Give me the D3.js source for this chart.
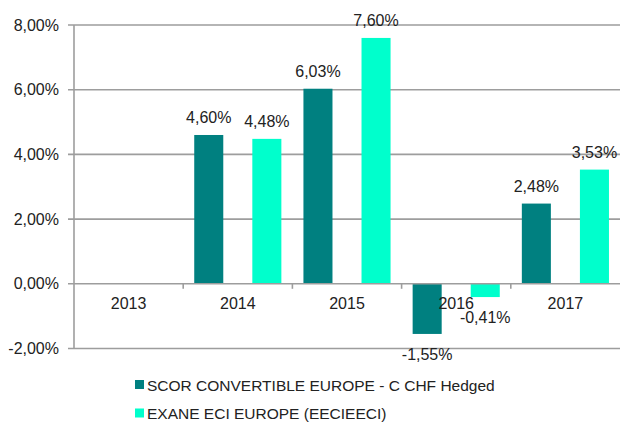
<!DOCTYPE html>
<html>
<head>
<meta charset="utf-8">
<script src="https://cdn.jsdelivr.net/npm/d3@7"></script>
<style>
    body { margin: 0; background: #fff; }
    text { font-family: 'Liberation Sans', Arial, sans-serif; fill: #222; }
</style>
</head>
<body>
<div id="chart"></div>
<script>
// data
const years = ['2013', '2014', '2015', '2016', '2017'];
const seriesNames = ['SCOR CONVERTIBLE EUROPE - C CHF Hedged', 'EXANE ECI EUROPE (EECIEECI)'];
const scorValues = [null, 4.60, 6.03, -1.55, 2.48];
const exaneValues = [null, 4.48, 7.60, -0.41, 3.53];
const yTicks = [-2, 0, 2, 4, 6, 8];
const colors = ['#008080', '#00ffcc'];

const W = 620, H = 423;
const margin = { top: 25, right: 0, bottom: 74.5, left: 74 };

const svg = d3.select('#chart').append('svg')
    .attr('width', W)
    .attr('height', H);

// scales
const x0 = d3.scaleBand().domain(years).range([margin.left, W - margin.right]);
const x1 = d3.scaleBand().domain([0, 1]).range([0, x0.bandwidth()])
    .paddingInner(0.5).paddingOuter(0.19);
const y = d3.scaleLinear().domain([-2, 8]).range([H - margin.bottom, margin.top]);

// comma decimals, plain hyphen for minus
const fmt = (v) => v.toFixed(2).replace('.', ',') + '%';
const gridColor = '#9d9d9d';

// gridlines
svg.append('g')
    .selectAll('line')
    .data(yTicks.filter((d) => d !== 0))
    .join('line')
    .attr('x1', margin.left - 6)
    .attr('x2', W)
    .attr('y1', (d) => y(d))
    .attr('y2', (d) => y(d))
    .attr('stroke', gridColor)
    .attr('stroke-width', 1.6);

// y axis line
svg.append('line')
    .attr('x1', margin.left).attr('x2', margin.left)
    .attr('y1', y(8)).attr('y2', y(-2))
    .attr('stroke', gridColor).attr('stroke-width', 1.6);

// y labels
svg.append('g')
    .selectAll('text')
    .data(yTicks)
    .join('text')
    .attr('x', margin.left - 15)
    .attr('y', (d) => y(d) + 5.5)
    .attr('text-anchor', 'end')
    .style('font-size', '16px')
    .text((d) => fmt(d));

// bars
const rows = years.map((yr, i) => ({ year: yr, vals: [scorValues[i], exaneValues[i]] }));

const groups = svg.append('g')
    .selectAll('g')
    .data(rows)
    .join('g')
    .attr('transform', (d) => `translate(${x0(d.year)},0)`);

const cells = groups.selectAll('.cell')
    .data((d) => d.vals.map((v, k) => ({ k: k, v: v })).filter((c) => c.v !== null))
    .join('g')
    .attr('class', 'cell');

cells.append('rect')
    .attr('x', (d) => x1(d.k))
    .attr('width', x1.bandwidth())
    .attr('y', (d) => y(Math.max(0, d.v)))
    .attr('height', (d) => Math.abs(y(d.v) - y(0)))
    .attr('fill', (d) => colors[d.k]);

// x axis at zero
svg.append('line')
    .attr('x1', margin.left - 6).attr('x2', W)
    .attr('y1', y(0)).attr('y2', y(0))
    .attr('stroke', gridColor).attr('stroke-width', 1.6);

svg.append('g')
    .selectAll('line')
    .data(years.slice(1))
    .join('line')
    .attr('x1', (d) => x0(d)).attr('x2', (d) => x0(d))
    .attr('y1', y(0)).attr('y2', y(0) + 5)
    .attr('stroke', gridColor).attr('stroke-width', 1.6);

// x labels
svg.append('g')
    .selectAll('text')
    .data(years)
    .join('text')
    .attr('x', (d) => x0(d) + x0.bandwidth() / 2)
    .attr('y', y(0) + 25)
    .attr('text-anchor', 'middle')
    .style('font-size', '16px')
    .text((d) => d);

// data labels
cells.append('text')
    .attr('x', (d) => x1(d.k) + x1.bandwidth() / 2)
    .attr('y', (d) => (d.v >= 0 ? y(d.v) - 12 : y(d.v) + 26))
    .attr('text-anchor', 'middle')
    .style('font-size', '16px')
    .text((d) => fmt(d.v));

// legend
const legend = svg.append('g')
    .selectAll('g')
    .data(seriesNames)
    .join('g')
    .attr('transform', (d, i) => `translate(135,${385 + i * 28.5})`);

legend.append('rect')
    .attr('x', 0).attr('y', -5)
    .attr('width', 9).attr('height', 9)
    .attr('fill', (d, i) => colors[i]);

legend.append('text')
    .attr('x', 12)
    .attr('y', 5.5)
    .style('font-size', '15.5px')
    .text((d) => d);
</script>
</body>
</html>
